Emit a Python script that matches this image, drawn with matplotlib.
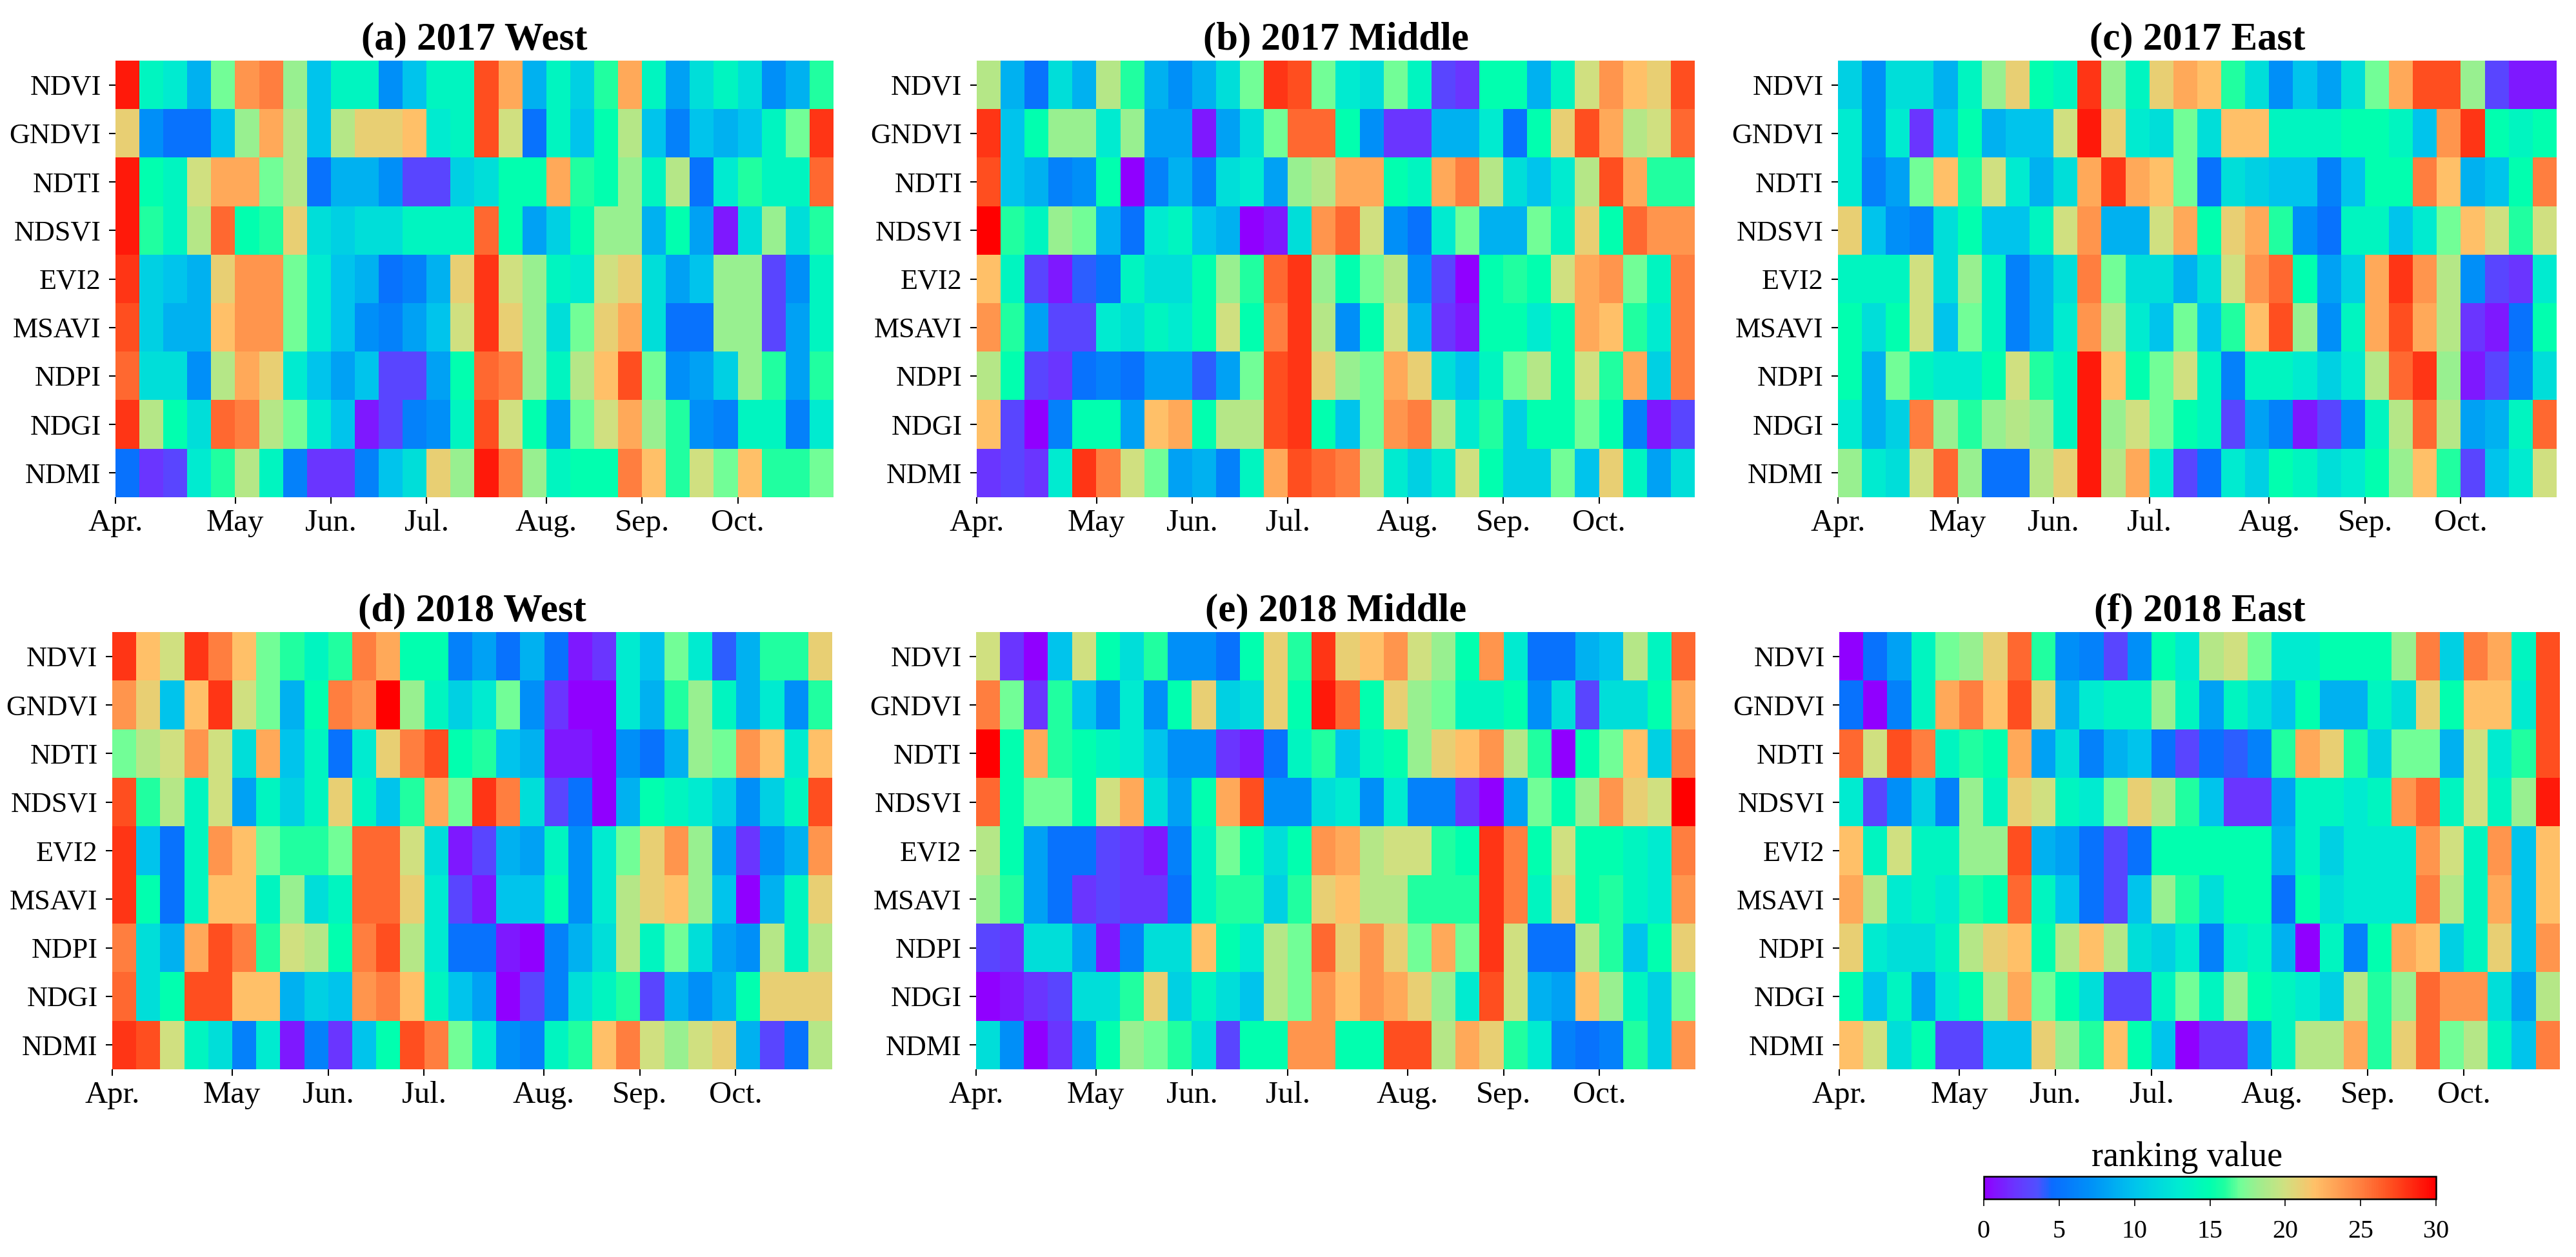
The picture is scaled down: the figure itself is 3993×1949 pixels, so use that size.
import numpy as np
import matplotlib
matplotlib.use('Agg')
import matplotlib.pyplot as plt
from matplotlib.colors import LinearSegmentedColormap

plt.rcParams['font.family'] = ['Liberation Serif', 'DejaVu Serif']

indices = ['NDVI', 'GNDVI', 'NDTI', 'NDSVI', 'EVI2', 'MSAVI', 'NDPI', 'NDGI', 'NDMI']
months = ['Apr.', 'May', 'Jun.', 'Jul.', 'Aug.', 'Sep.', 'Oct.']
month_cols = [0, 5, 9, 13, 18, 22, 26]
titles = ['(a) 2017 West', '(b) 2017 Middle', '(c) 2017 East',
          '(d) 2018 West', '(e) 2018 Middle', '(f) 2018 East']

west_2017 = [
    [29, 14, 13, 9, 17, 24, 25, 18, 10, 14, 14, 7, 10, 14, 14, 27, 23, 9, 14, 11, 16, 23, 14, 8, 12, 14, 12, 7, 9, 16],
    [21, 7, 5, 5, 10, 18, 23, 19, 10, 19, 21, 21, 22, 13, 14, 27, 20, 5, 14, 10, 15, 19, 10, 6, 10, 9, 10, 14, 17, 28],
    [29, 15, 14, 20, 23, 23, 17, 19, 5, 9, 9, 7, 3, 3, 11, 12, 15, 15, 23, 16, 15, 18, 14, 19, 5, 13, 16, 14, 14, 26],
    [29, 16, 14, 19, 26, 15, 16, 21, 12, 11, 12, 12, 14, 14, 14, 26, 15, 8, 11, 15, 18, 18, 9, 15, 8, 1, 12, 18, 12, 16],
    [28, 11, 10, 9, 21, 24, 24, 17, 13, 10, 9, 5, 6, 9, 21, 28, 20, 18, 14, 13, 20, 21, 12, 8, 10, 18, 18, 3, 7, 14],
    [27, 11, 9, 9, 22, 24, 24, 17, 13, 10, 7, 6, 8, 10, 20, 28, 21, 18, 12, 17, 21, 23, 12, 5, 5, 18, 18, 3, 8, 14],
    [26, 12, 12, 7, 19, 23, 21, 13, 10, 8, 10, 3, 3, 8, 15, 26, 25, 18, 14, 19, 22, 27, 17, 7, 8, 11, 18, 16, 8, 16],
    [28, 19, 15, 12, 26, 25, 19, 17, 13, 10, 1, 3, 6, 7, 14, 27, 20, 15, 8, 17, 20, 23, 18, 16, 7, 6, 14, 14, 6, 13],
    [5, 2, 3, 13, 16, 19, 14, 6, 2, 2, 6, 10, 12, 21, 18, 29, 25, 18, 14, 15, 15, 25, 22, 16, 20, 17, 22, 16, 16, 17],
]
middle_2017 = [
    [19, 9, 5, 12, 9, 19, 16, 9, 7, 9, 12, 17, 28, 27, 17, 13, 12, 17, 14, 3, 2, 15, 15, 9, 14, 20, 24, 22, 21, 27],
    [28, 10, 15, 18, 18, 13, 18, 8, 8, 1, 8, 12, 17, 26, 26, 15, 7, 2, 2, 9, 9, 13, 5, 15, 21, 27, 23, 19, 20, 26],
    [27, 10, 9, 6, 7, 15, 0, 6, 9, 6, 12, 13, 8, 18, 19, 23, 23, 15, 14, 23, 25, 19, 12, 10, 13, 19, 27, 23, 16, 16],
    [30, 16, 14, 18, 17, 9, 5, 13, 14, 10, 9, 0, 1, 12, 24, 26, 20, 7, 5, 13, 17, 9, 9, 17, 14, 21, 15, 26, 24, 24],
    [22, 14, 3, 1, 4, 5, 14, 12, 12, 15, 18, 16, 26, 28, 18, 15, 17, 19, 7, 3, 0, 15, 16, 15, 20, 23, 24, 17, 14, 25],
    [24, 16, 8, 3, 3, 13, 12, 14, 13, 15, 20, 15, 25, 28, 19, 7, 15, 20, 9, 2, 1, 15, 15, 13, 15, 23, 22, 16, 13, 25],
    [19, 15, 3, 2, 5, 6, 5, 8, 8, 4, 8, 17, 27, 28, 21, 18, 17, 23, 21, 12, 10, 14, 17, 19, 15, 20, 16, 23, 11, 25],
    [22, 3, 0, 6, 15, 15, 8, 22, 23, 15, 19, 19, 27, 28, 15, 10, 17, 24, 25, 19, 13, 16, 11, 15, 15, 17, 15, 6, 1, 3],
    [2, 3, 2, 13, 28, 25, 20, 17, 8, 9, 6, 14, 23, 27, 26, 25, 19, 13, 11, 13, 20, 15, 11, 11, 17, 10, 21, 14, 8, 12],
]
east_2017 = [
    [11, 7, 12, 12, 9, 14, 18, 21, 15, 14, 28, 18, 14, 21, 23, 22, 16, 12, 7, 10, 8, 12, 17, 23, 27, 27, 18, 3, 1, 1],
    [13, 7, 13, 2, 10, 15, 9, 10, 10, 20, 29, 21, 13, 12, 17, 12, 22, 22, 14, 14, 14, 15, 15, 14, 10, 24, 28, 15, 14, 15],
    [13, 6, 8, 17, 22, 16, 20, 13, 9, 12, 23, 28, 23, 22, 17, 5, 12, 11, 10, 10, 6, 10, 15, 15, 25, 22, 9, 10, 15, 25],
    [21, 10, 7, 6, 12, 15, 10, 10, 14, 20, 24, 9, 9, 20, 23, 15, 21, 23, 16, 7, 5, 14, 14, 10, 13, 17, 22, 20, 16, 20],
    [14, 14, 14, 20, 12, 18, 14, 6, 9, 12, 25, 17, 12, 12, 9, 12, 20, 24, 26, 15, 8, 11, 23, 28, 24, 19, 7, 3, 2, 13],
    [15, 12, 15, 20, 10, 17, 14, 6, 9, 13, 24, 19, 13, 10, 17, 10, 16, 22, 27, 18, 7, 14, 23, 27, 23, 19, 2, 1, 5, 15],
    [15, 9, 17, 14, 13, 13, 15, 20, 16, 14, 29, 22, 15, 17, 20, 14, 6, 14, 14, 13, 11, 13, 19, 26, 28, 18, 1, 3, 6, 12],
    [13, 9, 11, 25, 18, 16, 18, 19, 18, 14, 29, 18, 20, 17, 15, 14, 3, 8, 6, 1, 3, 7, 14, 19, 26, 19, 8, 9, 14, 26],
    [18, 13, 12, 20, 26, 18, 5, 5, 19, 21, 29, 19, 23, 13, 3, 5, 13, 11, 15, 14, 12, 13, 15, 18, 22, 16, 3, 10, 13, 20],
]
west_2018 = [
    [28, 22, 20, 28, 25, 22, 17, 16, 14, 16, 25, 23, 15, 15, 6, 8, 5, 9, 5, 1, 2, 13, 10, 17, 13, 4, 9, 16, 16, 21],
    [24, 21, 10, 22, 28, 20, 17, 9, 15, 25, 24, 30, 18, 14, 11, 13, 17, 7, 2, 0, 0, 13, 9, 16, 18, 14, 9, 13, 7, 16],
    [17, 19, 20, 24, 20, 12, 23, 10, 14, 5, 13, 21, 25, 27, 15, 16, 10, 9, 1, 1, 0, 7, 5, 9, 18, 17, 24, 22, 13, 22],
    [27, 16, 19, 14, 20, 8, 14, 11, 14, 21, 14, 10, 16, 23, 17, 28, 25, 12, 3, 5, 0, 9, 15, 14, 13, 11, 7, 11, 14, 27],
    [28, 10, 5, 14, 24, 22, 17, 16, 16, 17, 26, 26, 20, 12, 1, 3, 9, 8, 14, 7, 13, 17, 21, 24, 18, 8, 2, 7, 9, 24],
    [28, 15, 5, 14, 22, 22, 14, 18, 12, 14, 26, 26, 21, 13, 3, 1, 10, 10, 15, 7, 13, 19, 21, 22, 18, 10, 0, 9, 14, 21],
    [25, 12, 9, 23, 27, 25, 16, 20, 19, 15, 25, 27, 19, 13, 5, 5, 1, 0, 6, 9, 12, 19, 14, 17, 12, 8, 7, 19, 14, 19],
    [26, 12, 15, 27, 27, 22, 22, 9, 11, 10, 24, 25, 22, 14, 10, 8, 0, 3, 6, 12, 14, 16, 3, 9, 7, 9, 15, 21, 21, 21],
    [28, 27, 20, 14, 12, 6, 13, 1, 6, 2, 10, 15, 27, 25, 17, 13, 7, 6, 14, 16, 22, 25, 20, 18, 20, 21, 9, 3, 5, 19],
]
middle_2018 = [
    [20, 2, 0, 10, 20, 15, 12, 16, 7, 7, 5, 15, 21, 16, 28, 21, 22, 24, 20, 18, 15, 24, 13, 5, 5, 9, 10, 19, 14, 26],
    [25, 17, 2, 16, 10, 7, 13, 7, 15, 21, 11, 12, 21, 15, 29, 26, 15, 21, 18, 17, 14, 14, 15, 7, 12, 3, 12, 12, 15, 23],
    [30, 15, 23, 16, 15, 14, 13, 10, 7, 7, 2, 1, 5, 14, 16, 10, 14, 15, 18, 21, 22, 24, 19, 16, 0, 15, 17, 22, 11, 25],
    [26, 15, 17, 17, 15, 20, 23, 12, 8, 15, 23, 27, 7, 7, 12, 13, 7, 13, 6, 6, 2, 0, 8, 17, 15, 18, 24, 21, 20, 30],
    [19, 15, 8, 5, 5, 3, 2, 1, 6, 14, 17, 15, 12, 15, 24, 23, 19, 20, 20, 16, 15, 28, 25, 15, 20, 15, 15, 14, 13, 25],
    [18, 16, 8, 5, 2, 3, 2, 2, 5, 14, 16, 16, 11, 16, 21, 22, 19, 19, 16, 16, 16, 28, 25, 14, 21, 15, 16, 14, 13, 24],
    [3, 2, 12, 12, 8, 1, 6, 12, 12, 22, 15, 13, 19, 17, 26, 21, 24, 21, 17, 23, 17, 28, 20, 5, 5, 19, 16, 10, 15, 21],
    [0, 1, 2, 3, 12, 12, 16, 21, 11, 14, 12, 10, 19, 17, 24, 22, 24, 23, 21, 18, 13, 27, 20, 9, 8, 22, 18, 14, 11, 17],
    [12, 7, 0, 2, 8, 15, 18, 17, 16, 12, 3, 15, 15, 24, 24, 15, 15, 27, 27, 19, 23, 21, 16, 13, 6, 5, 6, 16, 11, 24],
]
east_2018 = [
    [0, 5, 8, 14, 17, 18, 21, 26, 16, 7, 6, 3, 7, 15, 13, 19, 20, 17, 13, 13, 15, 15, 15, 18, 25, 11, 25, 23, 14, 27],
    [5, 0, 6, 14, 23, 25, 22, 27, 21, 9, 13, 14, 14, 18, 14, 8, 14, 12, 10, 15, 9, 9, 14, 12, 21, 15, 22, 22, 13, 27],
    [26, 20, 27, 25, 14, 16, 15, 23, 8, 12, 6, 9, 10, 5, 3, 5, 4, 6, 16, 23, 21, 16, 11, 17, 17, 9, 20, 13, 16, 27],
    [13, 3, 7, 11, 6, 18, 14, 21, 20, 14, 13, 17, 21, 19, 16, 10, 2, 2, 8, 14, 14, 13, 14, 24, 26, 14, 20, 14, 18, 29],
    [22, 14, 20, 14, 14, 18, 18, 27, 9, 8, 5, 3, 5, 15, 15, 15, 15, 15, 9, 14, 11, 13, 13, 13, 24, 20, 14, 24, 10, 22],
    [23, 19, 13, 14, 13, 16, 15, 26, 14, 10, 5, 3, 10, 18, 16, 12, 15, 15, 5, 15, 12, 13, 13, 13, 25, 19, 14, 23, 10, 22],
    [21, 13, 12, 12, 14, 19, 21, 22, 15, 19, 22, 19, 12, 11, 13, 6, 13, 14, 9, 0, 14, 6, 15, 23, 22, 11, 14, 21, 10, 24],
    [15, 10, 14, 8, 13, 15, 19, 23, 17, 15, 12, 3, 3, 14, 17, 14, 18, 15, 14, 13, 11, 19, 16, 18, 26, 24, 24, 12, 8, 19],
    [22, 20, 12, 15, 3, 3, 10, 10, 21, 18, 16, 22, 15, 10, 0, 2, 2, 8, 14, 19, 19, 23, 16, 21, 26, 17, 19, 14, 10, 25],
]
panels = [west_2017, middle_2017, east_2017, west_2018, middle_2018, east_2018]

# colour ramp
cmap = LinearSegmentedColormap.from_list('ranking', [
    (0 / 30, '#9000ff'), (2 / 30, '#6a35ff'), (3.5 / 30, '#5050ff'), (4.5 / 30, '#0a6cff'),
    (7 / 30, '#0090f8'), (10 / 30, '#00c4ec'), (13 / 30, '#00ecd0'), (15 / 30, '#00ffb0'),
    (16 / 30, '#20ffa0'), (17 / 30, '#70ff98'), (18 / 30, '#98f090'), (20 / 30, '#d0e080'),
    (22 / 30, '#ffc068'), (25 / 30, '#ff8040'), (27 / 30, '#ff5020'), (30 / 30, '#ff0000'),
])

W, H = 3993, 1949
fig = plt.figure(figsize=(W / 300, H / 300), dpi=300)

# left, right, top, bottom in pixels
boxes = [(179, 1292, 94, 771), (1514, 2627, 94, 771), (2849, 3963, 94, 771),
         (174, 1289, 980, 1658), (1513, 2628, 980, 1658), (2851, 3968, 980, 1658)]

im = None
for data, title, (l, r, t, b) in zip(panels, titles, boxes):
    ax = fig.add_axes([l / W, 1 - b / H, (r - l) / W, (b - t) / H])
    im = ax.imshow(np.array(data), cmap=cmap, vmin=0, vmax=30, aspect='auto',
                   interpolation='nearest', extent=[0, 30, 9, 0])
    ax.set_xticks(month_cols)
    ax.set_xticklabels(months, fontsize=11.7)
    ax.set_yticks(np.arange(9) + 0.5)
    ax.set_yticklabels(indices, fontsize=10.6)
    ax.tick_params(axis='y', length=2.4, width=0.5, pad=3)
    ax.tick_params(axis='x', length=2.3, width=0.5, pad=2)
    for s in ax.spines.values():
        s.set_visible(False)
    ax.set_title(title, fontsize=14.6, fontweight='bold', pad=4)

cax = fig.add_axes([3075 / W, 1 - 1859 / H, 701 / W, 35 / H])
cb = fig.colorbar(im, cax=cax, orientation='horizontal')
cb.set_ticks([0, 5, 10, 15, 20, 25, 30])
cb.ax.tick_params(labelsize=9.6, length=2.6, width=0.4, pad=5)
cb.outline.set_linewidth(0.6)
cax.text(0.449, 1.1, 'ranking value', transform=cax.transAxes, ha='center', va='bottom', fontsize=13)

fig.savefig('out.png', dpi=300)
